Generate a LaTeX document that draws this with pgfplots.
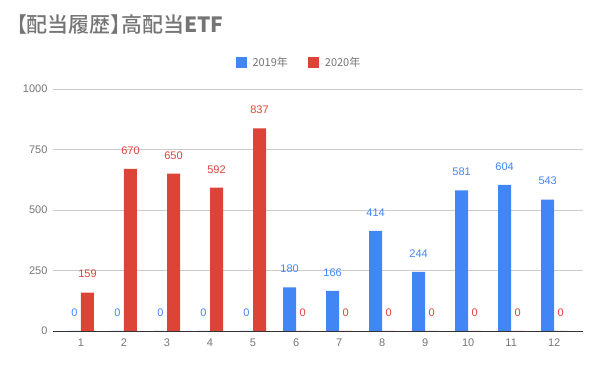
\documentclass[border=0pt]{standalone}
\usepackage{pgfplots}
\pgfplotsset{compat=1.18}
\usepackage{fontspec}
\setmainfont{Liberation Sans}
\newfontfamily\cjk{Noto Sans CJK JP}
\newfontfamily\cjkp[RawFeature=+palt, UprightFont={* Medium}]{Noto Sans CJK JP}
\definecolor{cblue}{HTML}{4285F4}
\definecolor{cred}{HTML}{DB4437}
\definecolor{cgray}{HTML}{757575}
\definecolor{cgrid}{HTML}{CCCCCC}
\definecolor{caxis}{HTML}{333333}
\begin{document}
\begin{tikzpicture}[x=1pt,y=1pt]
\path[use as bounding box] (-53,-40) rectangle (547,331);
\begin{axis}[
  at={(0,0)}, anchor=south west,
  scale only axis, width=530pt, height=242pt,
  ybar=0pt, bar width=13pt,
  xmin=0.35, xmax=12.67, ymin=0, ymax=1000,
  xtick={1,...,12}, ytick={0,250,500,750,1000},
  ymajorgrids, grid style={cgrid, line width=0.6pt},
  axis x line*=bottom, axis y line*=left,
  y axis line style={draw=none},
  x axis line style={caxis, line width=0.8pt, -},
  major tick length=0pt,
  tick label style={font=\fontsize{11}{13}\selectfont, text=cgray},
  /pgf/number format/assume math mode=true,
  /pgf/number format/1000 sep={},
  yticklabel style={xshift=-2pt},
  xticklabel style={yshift=-4pt},
  nodes near coords,
  nodes near coords style={font=\fontsize{11}{13}\selectfont, yshift=11pt},
  legend columns=2,
  legend style={at={(0.464,1.107)}, anchor=center, draw=none, fill=none,
    font=\cjk\fontsize{11}{13}\selectfont, text=cgray,
    /tikz/every even column/.append style={column sep=18pt}},
  legend image code/.code={\fill[#1] (0pt,-5pt) rectangle (11pt,6pt); \path (11pt,0pt) -- (15pt,0pt);},
  clip=false,
]
\addplot[draw=none, fill=cblue, nodes near coords style={text=cblue}] coordinates {
(1,0) (2,0) (3,0) (4,0) (5,0) (6,180) (7,166) (8,414) (9,244) (10,581) (11,604) (12,543)};
\addplot[draw=none, fill=cred, nodes near coords style={text=cred}] coordinates {
(1,159) (2,670) (3,650) (4,592) (5,837) (6,0) (7,0) (8,0) (9,0) (10,0) (11,0) (12,0)};
\legend{2019年,2020年}
\end{axis}
\node[anchor=west, text=cgray, inner sep=0pt, font=\cjkp\fontsize{21}{25}\selectfont] at (-37,306) {【配当履歴】高配当\textbf{ETF}};
\end{tikzpicture}
\end{document}
